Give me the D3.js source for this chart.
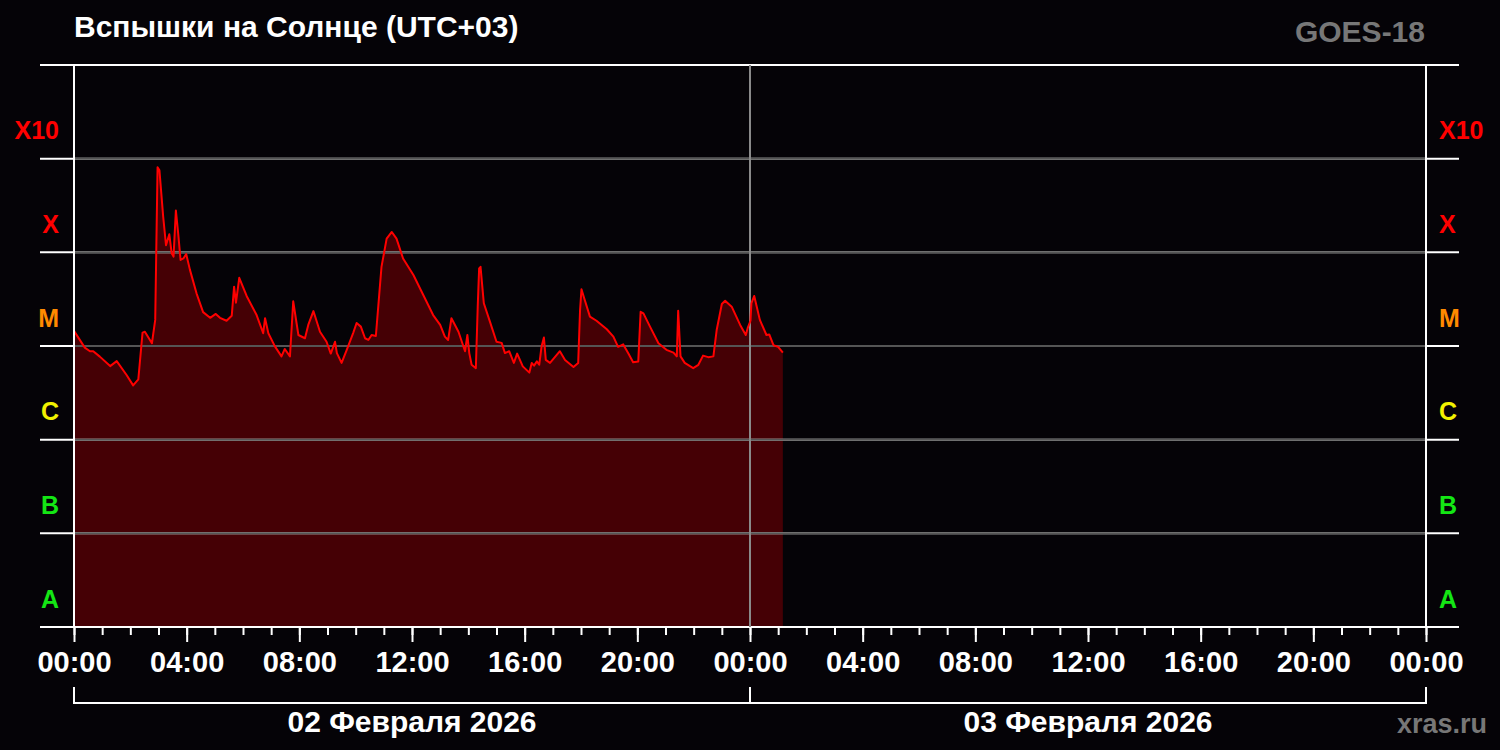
<!DOCTYPE html>
<html>
<head>
<meta charset="utf-8">
<title>Вспышки на Солнце</title>
<script src="https://d3js.org/d3.v7.min.js"></script>
<style>
  body { margin: 0; background: #050307; }
  svg { display: block; }
  text { font-family: "Liberation Sans", Arial, sans-serif; font-weight: bold; }
</style>
</head>
<body>
<svg width="1500" height="750"></svg>
<script>
// minutes since 02.02.2026 00:00 (UTC+03) and X-ray flux, W/m2
var minutes = [0,23,34,41,55,77,91,112,126,137,
  146,151,166,173,178,182,190,196,203,208,
  212,217,222,227,233,239,247,261,275,290,
  302,311,325,336,341,345,352,368,389,403,
  407,414,428,442,449,460,467,478,492,499,
  510,524,538,547,556,560,570,581,595,602,
  611,620,627,634,643,655,666,677,687,701,
  723,744,765,780,790,797,804,819,833,838,
  842,847,856,860,863,866,873,886,900,911,
  918,927,937,944,956,970,975,980,986,991,
  996,1001,1005,1014,1035,1046,1064,1074,1078,1081,
  1088,1099,1113,1135,1149,1159,1170,1181,1191,1202,
  1207,1213,1227,1245,1262,1277,1284,1287,1292,1301,
  1319,1330,1340,1351,1362,1369,1380,1387,1401,1419,
  1431,1435,1441,1443,1449,1461,1475,1481,1490,1500,
  1510];
var flux = [1.45e-5,9.6e-6,8.8e-6,8.8e-6,7.7e-6,6.1e-6,6.9e-6,4.9e-6,3.8e-6,4.4e-6,
  1.39e-5,1.42e-5,1.07e-5,1.9e-5,8.1e-4,7.5e-4,2.4e-4,1.19e-4,1.56e-4,9.8e-5,
  9.0e-5,2.8e-4,1.58e-4,8.3e-5,8.6e-5,9.6e-5,6.5e-5,3.65e-5,2.3e-5,2.0e-5,
  2.2e-5,2.0e-5,1.86e-5,2.1e-5,4.3e-5,2.9e-5,5.35e-5,3.4e-5,2.14e-5,1.37e-5,
  1.98e-5,1.37e-5,9.9e-6,7.75e-6,9.3e-6,7.75e-6,3.0e-5,1.31e-5,1.21e-5,1.68e-5,
  2.36e-5,1.42e-5,1.11e-5,8.3e-6,1.11e-5,8.4e-6,6.6e-6,9.1e-6,1.39e-5,1.76e-5,
  1.61e-5,1.21e-5,1.16e-5,1.31e-5,1.28e-5,7.0e-5,1.40e-4,1.65e-4,1.40e-4,8.6e-5,
  5.73e-5,3.5e-5,2.14e-5,1.68e-5,1.26e-5,1.16e-5,1.98e-5,1.42e-5,8.8e-6,1.31e-5,
  8.4e-6,6.3e-6,5.8e-6,2.63e-5,6.75e-5,7.0e-5,2.86e-5,1.82e-5,1.11e-5,1.08e-5,
  8.4e-6,8.8e-6,6.6e-6,8.3e-6,6.06e-6,5.2e-6,6.6e-6,6.17e-6,6.85e-6,6.3e-6,
  9.9e-6,1.23e-5,7.1e-6,6.6e-6,8.8e-6,7.1e-6,5.97e-6,6.6e-6,2.42e-5,4.03e-5,
  3.1e-5,2.06e-5,1.86e-5,1.51e-5,1.26e-5,9.8e-6,1.04e-5,8.3e-6,6.7e-6,6.85e-6,
  2.32e-5,2.23e-5,1.61e-5,1.07e-5,9.1e-6,8.5e-6,7.75e-6,2.38e-5,7.75e-6,6.6e-6,
  5.8e-6,6.3e-6,7.9e-6,7.6e-6,7.75e-6,1.48e-5,2.81e-5,3.04e-5,2.63e-5,1.68e-5,
  1.31e-5,1.55e-5,1.86e-5,2.86e-5,3.42e-5,1.9e-5,1.31e-5,1.33e-5,1.02e-5,9.8e-6,
  8.5e-6];

var classNames = ["A", "B", "C", "M", "X", "X10"];
var classLow = [1e-8, 1e-7, 1e-6, 1e-5, 1e-4, 1e-3];
var classColors = ["#14e614", "#14e614", "#f2f200", "#ff8a00", "#ff0000", "#ff0000"];
var dayLabels = ["02 Февраля 2026", "03 Февраля 2026"];

var svg = d3.select("svg");
var plotLeft = 74, plotRight = 1426, plotTop = 65, plotBottom = 627;

var t0 = Date.UTC(2026, 1, 2);
var x = d3.scaleUtc()
    .domain([new Date(t0), new Date(Date.UTC(2026, 1, 4))])
    .range([plotLeft, plotRight]);
var y = d3.scaleLog().domain([1e-8, 1e-2]).range([plotBottom, plotTop]);

var data = minutes.map(function(m, i) {
  return { t: new Date(t0 + m * 60000), f: flux[i] };
});

svg.append("rect").attr("width", 1500).attr("height", 750).attr("fill", "#050307");

// flux area
svg.append("path")
    .datum(data)
    .attr("fill", "#450005")
    .attr("d", d3.area()
      .x(function(d) { return x(d.t); })
      .y0(y(1e-8))
      .y1(function(d) { return y(d.f); }));

// grid lines between classes
var levels = [1e-7, 1e-6, 1e-5, 1e-4, 1e-3];
svg.selectAll(".outer").data(levels.concat([1e-8, 1e-2])).enter().append("line")
    .attr("x1", 40).attr("x2", 1459)
    .attr("y1", function(d) { return y(d); }).attr("y2", function(d) { return y(d); })
    .attr("stroke", "#fff").attr("stroke-width", 2);
svg.selectAll(".inner").data(levels).enter().append("line")
    .attr("x1", plotLeft + 1).attr("x2", plotRight - 1)
    .attr("y1", function(d) { return y(d); }).attr("y2", function(d) { return y(d); })
    .attr("stroke", "#555").attr("stroke-width", 2);

// midnight
var midnight = new Date(Date.UTC(2026, 1, 3));
svg.append("line")
    .attr("x1", x(midnight)).attr("x2", x(midnight))
    .attr("y1", plotTop).attr("y2", plotBottom)
    .attr("stroke", "#8a8a8a").attr("stroke-width", 2);

// flux line
svg.append("path")
    .datum(data)
    .attr("fill", "none")
    .attr("stroke", "#ff0000")
    .attr("stroke-width", 2)
    .attr("stroke-linejoin", "round")
    .attr("d", d3.line()
      .x(function(d) { return x(d.t); })
      .y(function(d) { return y(d.f); }));

// frame verticals
[plotLeft, plotRight].forEach(function(px) {
  svg.append("line").attr("x1", px).attr("x2", px).attr("y1", plotTop).attr("y2", plotBottom)
      .attr("stroke", "#fff").attr("stroke-width", 2);
});

// x axis: hourly minor ticks, 4-hour labelled ticks
var minor = svg.append("g")
    .attr("transform", "translate(0," + plotBottom + ")")
    .call(d3.axisBottom(x).ticks(d3.utcHour.every(1)).tickSize(8).tickFormat(""));
var major = svg.append("g")
    .attr("transform", "translate(0," + plotBottom + ")")
    .call(d3.axisBottom(x).ticks(d3.utcHour.every(4)).tickSize(15).tickPadding(9)
      .tickFormat(d3.utcFormat("%H:%M")));
[minor, major].forEach(function(g) {
  g.select(".domain").remove();
  g.attr("color", "#fff").attr("font-size", 29)
    .attr("font-family", "'Liberation Sans', Arial, sans-serif").attr("font-weight", "bold");
  g.selectAll("line").attr("stroke-width", 2);
});

// class labels on both sides
classNames.forEach(function(c, i) {
  svg.append("text").attr("x", 59).attr("y", y(classLow[i]) - 19.5)
      .attr("text-anchor", "end").attr("font-size", 25).attr("fill", classColors[i]).text(c);
  svg.append("text").attr("x", 1439).attr("y", y(classLow[i]) - 19.5)
      .attr("text-anchor", "start").attr("font-size", 25).attr("fill", classColors[i]).text(c);
});

// day brackets
var dayStarts = [new Date(t0), midnight];
dayLabels.forEach(function(label, i) {
  var a = x(dayStarts[i]), b = x(d3.utcDay.offset(dayStarts[i], 1));
  svg.append("path")
      .attr("d", "M" + a + ",687V703H" + b + "V687")
      .attr("fill", "none").attr("stroke", "#fff").attr("stroke-width", 2);
  svg.append("text").attr("x", (a + b) / 2).attr("y", 731.5)
      .attr("text-anchor", "middle").attr("font-size", 30).attr("fill", "#fff").text(label);
});

// titles
svg.append("text").attr("x", 74).attr("y", 37).attr("font-size", 30).attr("fill", "#fff")
    .text("Вспышки на Солнце (UTC+03)");
svg.append("text").attr("x", 1425).attr("y", 41.5).attr("text-anchor", "end")
    .attr("font-size", 30).attr("fill", "#777").text("GOES-18");
svg.append("text").attr("x", 1487).attr("y", 733).attr("text-anchor", "end")
    .attr("font-size", 27).attr("fill", "#777").text("xras.ru");
</script>
</body>
</html>
